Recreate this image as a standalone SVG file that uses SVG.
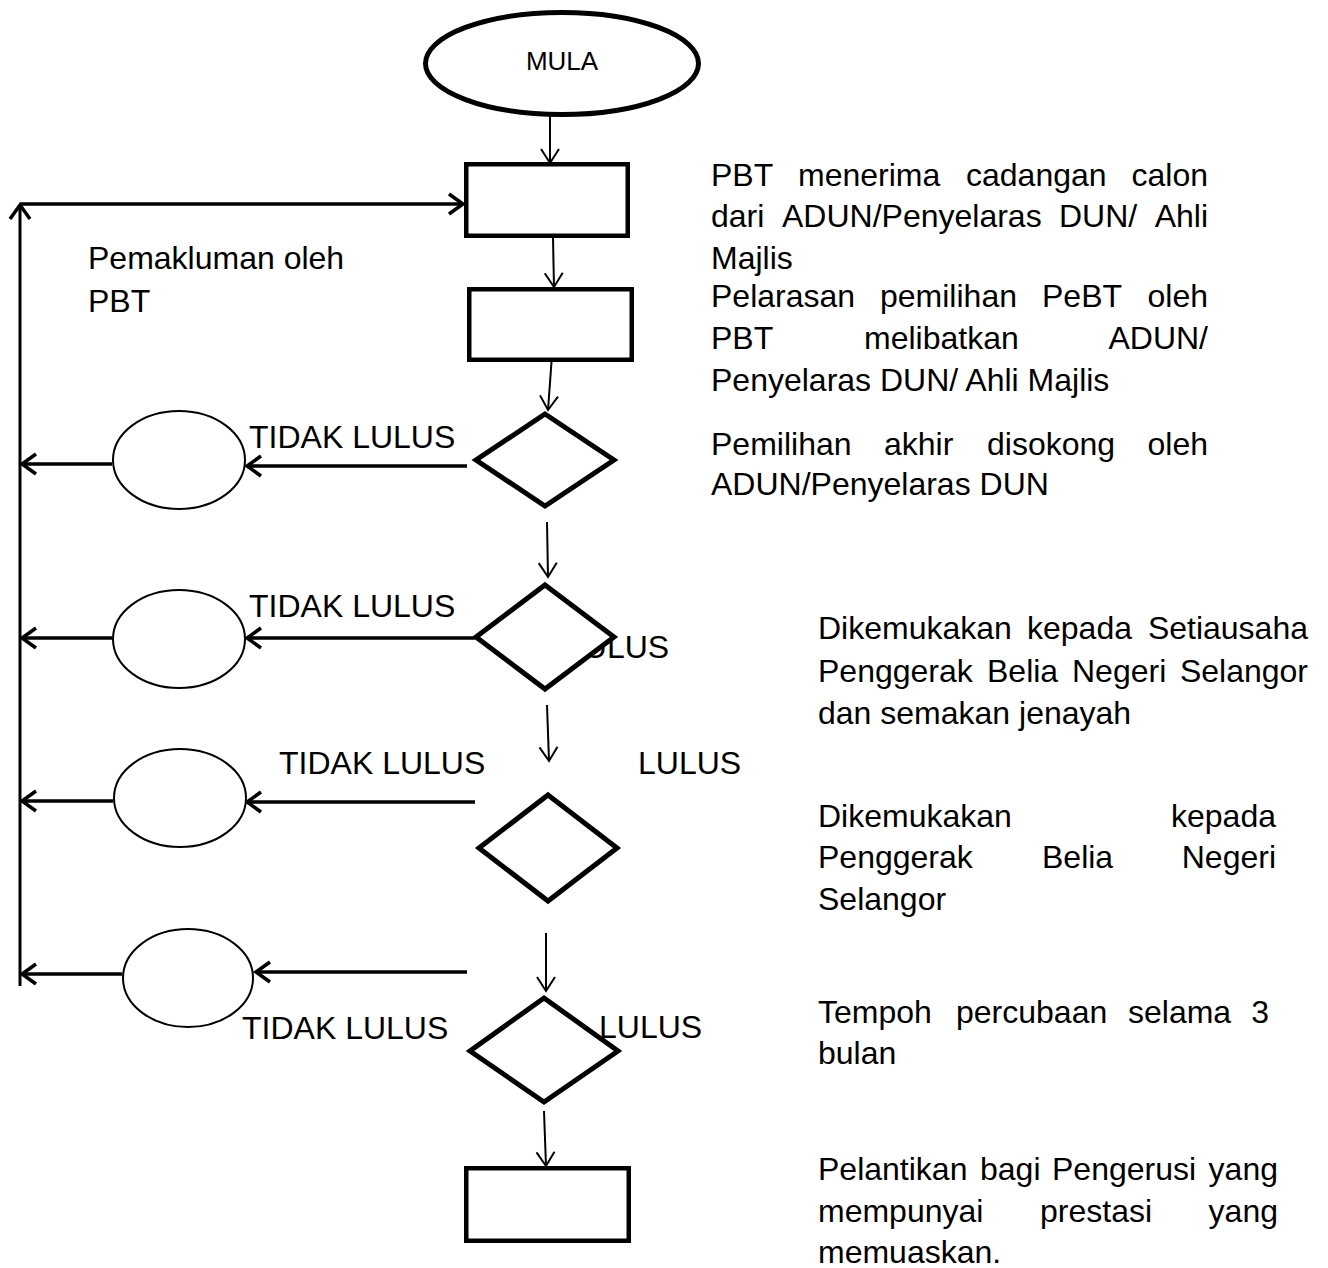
<svg xmlns="http://www.w3.org/2000/svg" width="1328" height="1268" viewBox="0 0 1328 1268">
<style>
text{font-family:"Liberation Sans",Arial,sans-serif;font-size:32px;fill:#000}
.mula{font-size:26px}
.thick{fill:#fff;stroke:#000;stroke-width:5;stroke-linejoin:miter}
.box{fill:#fff;stroke:#000;stroke-width:4.5}
.circ{fill:#fff;stroke:#000;stroke-width:2}
.thin{stroke:#000;stroke-width:2;fill:none;marker-end:url(#ahThin)}
.hv{stroke:#000;stroke-width:3.5;fill:none;marker-end:url(#ahThick)}
.bus{stroke:#000;stroke-width:3;fill:none}
</style>
<defs>
<marker id="ahThin" markerUnits="userSpaceOnUse" markerWidth="40" markerHeight="40" viewBox="-20 -20 40 40" refX="0" refY="0" orient="auto" overflow="visible">
<path d="M-14,-9 L0,0 L-14,9" fill="none" stroke="#000" stroke-width="2"/>
</marker>
<marker id="ahThick" markerUnits="userSpaceOnUse" markerWidth="40" markerHeight="40" viewBox="-20 -20 40 40" refX="0" refY="0" orient="auto" overflow="visible">
<path d="M-14,-10 L0,0 L-14,10" fill="none" stroke="#000" stroke-width="3.5"/>
</marker>
</defs>
<rect width="1328" height="1268" fill="#fff"/>

<g id="labels-behind">
<text x="566" y="658">LULUS</text>
<text x="599" y="1038">LULUS</text>
</g>

<g id="connectors">
<line class="thin" x1="550" y1="115" x2="550" y2="163"/>
<line class="thin" x1="553" y1="238" x2="554" y2="287"/>
<line class="thin" x1="552" y1="355" x2="548" y2="410"/>
<line class="thin" x1="547" y1="522" x2="548" y2="577"/>
<line class="thin" x1="547" y1="705" x2="549" y2="761"/>
<line class="thin" x1="546" y1="933" x2="546" y2="991"/>
<line class="thin" x1="544" y1="1111" x2="546" y2="1166"/>
<line class="hv" x1="467" y1="466" x2="247" y2="466"/>
<line class="hv" x1="112" y1="464" x2="22" y2="464"/>
<line class="hv" x1="475" y1="638" x2="247" y2="638"/>
<line class="hv" x1="112" y1="638" x2="22" y2="638"/>
<line class="hv" x1="475" y1="802" x2="247" y2="802"/>
<line class="hv" x1="113" y1="801" x2="22" y2="801"/>
<line class="hv" x1="467" y1="972" x2="256" y2="972"/>
<line class="hv" x1="122" y1="974" x2="22" y2="974"/>
<line class="bus" x1="20" y1="986" x2="20" y2="205" style="marker-end:url(#ahThick)"/>
<line class="hv" x1="20" y1="204" x2="463" y2="204"/>
</g>

<g id="mula">
<ellipse cx="562" cy="63.5" rx="136.5" ry="51" class="thick"/>
<text class="mula" x="562" y="70" text-anchor="middle">MULA</text>
</g>
<g id="rect1"><rect class="box" x="466.25" y="164.25" width="161.5" height="71.5"/></g>
<g id="rect2"><rect class="box" x="469.25" y="289.25" width="162.5" height="70.5"/></g>
<g id="rect3"><rect class="box" x="466.25" y="1168.25" width="162.5" height="72.5"/></g>
<g id="dec1"><path class="thick" d="M545,414 L614,460 L545,506 L476,460 Z"/></g>
<g id="dec2"><path class="thick" d="M545,585 L614,637 L545,689 L476,637 Z"/></g>
<g id="dec3"><path class="thick" d="M548,795 L617,848 L548,901 L479,848 Z"/></g>
<g id="dec4"><path class="thick" d="M544,998 L618,1051 L544,1102 L470,1051 Z"/></g>
<g id="circle1"><ellipse class="circ" cx="179" cy="460" rx="66" ry="49"/></g>
<g id="circle2"><ellipse class="circ" cx="179" cy="639" rx="66" ry="49"/></g>
<g id="circle3"><ellipse class="circ" cx="180" cy="798" rx="66" ry="49"/></g>
<g id="circle4"><ellipse class="circ" cx="188" cy="978" rx="65" ry="49"/></g>

<g id="labels">
<text x="249" y="448">TIDAK LULUS</text>
<text x="249" y="617">TIDAK LULUS</text>
<text x="279" y="774">TIDAK LULUS</text>
<text x="638" y="774">LULUS</text>
<text x="242" y="1039">TIDAK LULUS</text>
<text x="88" y="269">Pemakluman oleh</text>
<text x="88" y="312">PBT</text>
</g>

<g id="desc1">
<text y="186"><tspan x="711">PBT</tspan><tspan x="798">menerima</tspan><tspan x="966">cadangan</tspan><tspan x="1208" text-anchor="end">calon</tspan></text>
<text y="227"><tspan x="711">dari</tspan><tspan x="782">ADUN/Penyelaras</tspan><tspan x="1059">DUN/</tspan><tspan x="1208" text-anchor="end">Ahli</tspan></text>
<text x="711" y="269">Majlis</text>
</g>
<g id="desc2">
<text y="307"><tspan x="711">Pelarasan</tspan><tspan x="880">pemilihan</tspan><tspan x="1042">PeBT</tspan><tspan x="1208" text-anchor="end">oleh</tspan></text>
<text y="349"><tspan x="711">PBT</tspan><tspan x="864">melibatkan</tspan><tspan x="1208" text-anchor="end">ADUN/</tspan></text>
<text x="711" y="391">Penyelaras DUN/ Ahli Majlis</text>
</g>
<g id="desc3">
<text y="455"><tspan x="711">Pemilihan</tspan><tspan x="884">akhir</tspan><tspan x="987">disokong</tspan><tspan x="1208" text-anchor="end">oleh</tspan></text>
<text x="711" y="495">ADUN/Penyelaras DUN</text>
</g>
<g id="desc4">
<text y="639"><tspan x="818">Dikemukakan</tspan><tspan x="1027">kepada</tspan><tspan x="1308" text-anchor="end">Setiausaha</tspan></text>
<text y="682"><tspan x="818">Penggerak</tspan><tspan x="987">Belia</tspan><tspan x="1072">Negeri</tspan><tspan x="1308" text-anchor="end">Selangor</tspan></text>
<text x="818" y="724">dan semakan jenayah</text>
</g>
<g id="desc5">
<text y="827"><tspan x="818">Dikemukakan</tspan><tspan x="1276" text-anchor="end">kepada</tspan></text>
<text y="868"><tspan x="818">Penggerak</tspan><tspan x="1042">Belia</tspan><tspan x="1276" text-anchor="end">Negeri</tspan></text>
<text x="818" y="910">Selangor</text>
</g>
<g id="desc6">
<text y="1023"><tspan x="818">Tempoh</tspan><tspan x="956">percubaan</tspan><tspan x="1128">selama</tspan><tspan x="1269" text-anchor="end">3</tspan></text>
<text x="818" y="1064">bulan</text>
</g>
<g id="desc7">
<text y="1180"><tspan x="818">Pelantikan</tspan><tspan x="980">bagi</tspan><tspan x="1052">Pengerusi</tspan><tspan x="1278" text-anchor="end">yang</tspan></text>
<text y="1222"><tspan x="818">mempunyai</tspan><tspan x="1040">prestasi</tspan><tspan x="1278" text-anchor="end">yang</tspan></text>
<text x="818" y="1263">memuaskan.</text>
</g>
</svg>
